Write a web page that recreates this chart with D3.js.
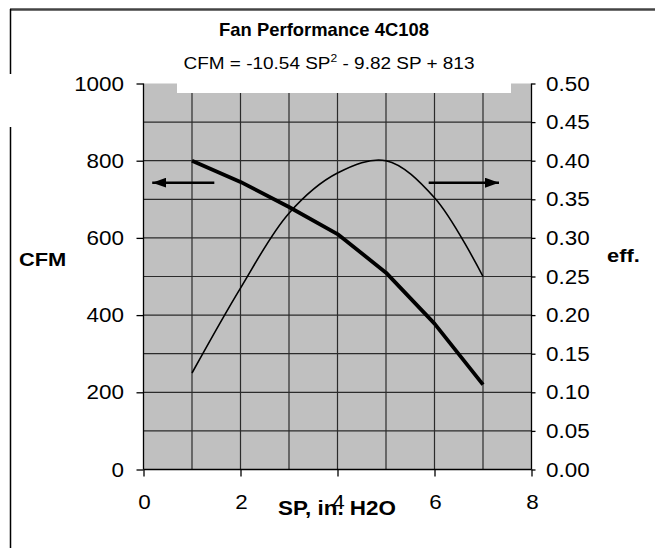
<!DOCTYPE html>
<html>
<head>
<meta charset="utf-8">
<script src="https://cdn.jsdelivr.net/npm/d3@7"></script>
<style>
  body { margin: 0; background: #fff; }
  text { font-family: "Liberation Sans", Arial, sans-serif; fill: #000; }
</style>
</head>
<body>
<div id="chart"></div>
<script>
var sp = [1, 2, 3, 4, 5, 6, 7];
var cfm = [800, 745, 680, 610, 510, 378, 220];
var eff = [0.125, 0.235, 0.332, 0.384, 0.400, 0.352, 0.250];
var xTicks = [0, 2, 4, 6, 8];
var cfmTicks = [0, 200, 400, 600, 800, 1000];
var effTicks = [0, 0.05, 0.10, 0.15, 0.20, 0.25, 0.30, 0.35, 0.40, 0.45, 0.50];
// arrows pointing to which axis each curve uses: [from sp, to sp, at cfm]
var arrows = [[1.46, 0.18, 743], [5.88, 7.33, 743]];

var w = 655, h = 548;
var pL = 143.5, pR = 531.5, pT = 83.5, pB = 469.5;

var svg = d3.select("#chart").append("svg").attr("width", w).attr("height", h);

var x = d3.scaleLinear().domain([0, 8]).range([pL, pR]);
var yL = d3.scaleLinear().domain([0, 1000]).range([pB, pT]);
var yR = d3.scaleLinear().domain([0, 0.5]).range([pB, pT]);

function label(txt, px, py, size, bold, anchor, sx) {
  return svg.append("text").text(txt)
    .attr("transform", "translate(" + px + "," + py + ") scale(" + (sx || 1.15) + ",1)")
    .attr("text-anchor", anchor || "middle")
    .style("font-size", size + "px")
    .style("font-weight", bold ? "bold" : "normal");
}

// outer frame, only top and left show
svg.append("line").attr("x1", 10).attr("x2", w).attr("y1", 9.5).attr("y2", 9.5)
  .attr("stroke", "#444").attr("stroke-width", 2.5);
svg.append("line").attr("x1", 10.5).attr("x2", 10.5).attr("y1", 9).attr("y2", 74)
  .attr("stroke", "#000").attr("stroke-width", 1.5);
svg.append("line").attr("x1", 10.5).attr("x2", 10.5).attr("y1", 127).attr("y2", h)
  .attr("stroke", "#000").attr("stroke-width", 1.5);

svg.append("rect").attr("x", pL).attr("y", pT).attr("width", pR - pL).attr("height", pB - pT)
  .attr("fill", "#c0c0c0");

var grid = svg.append("g").attr("stroke", "#2b2b2b").attr("stroke-width", 1.2);
grid.selectAll("line.v").data(d3.range(1, 8)).enter().append("line")
  .attr("x1", function(d) { return x(d); }).attr("x2", function(d) { return x(d); })
  .attr("y1", pT).attr("y2", pB);
grid.selectAll("line.h").data(effTicks.slice(1, -1)).enter().append("line")
  .attr("x1", pL).attr("x2", pR)
  .attr("y1", function(d) { return yR(d); }).attr("y2", function(d) { return yR(d); });

// title box sits over the top of the plot
svg.append("rect").attr("x", 177).attr("y", 40).attr("width", 334).attr("height", 53).attr("fill", "#fff");

// axes
var gx = svg.append("g").attr("transform", "translate(0," + pB + ")")
  .call(d3.axisBottom(x).tickValues(xTicks).tickSize(7).tickFormat(""));
var gl = svg.append("g").attr("transform", "translate(" + pL + ",0)")
  .call(d3.axisLeft(yL).tickValues(cfmTicks).tickSize(7).tickFormat(""));
var gr = svg.append("g").attr("transform", "translate(" + pR + ",0)")
  .call(d3.axisRight(yR).tickValues(effTicks).tickSize(4).tickFormat(""));
[gx, gl, gr].forEach(function(g) {
  g.select(".domain").attr("stroke", "#000").attr("stroke-width", 1.3);
  g.selectAll(".tick line").attr("stroke", "#000").attr("stroke-width", 1.3);
});
gl.select(".domain").attr("d", "M0," + pT + "V" + pB);
gr.select(".domain").attr("d", "M0," + pT + "V" + pB);
gx.select(".domain").attr("d", "M" + pL + ",0H" + pR);

xTicks.forEach(function(t) { label(t, x(t) + 1, 509, 19.5); });
cfmTicks.forEach(function(t) { label(t, 124, yL(t) + 7, 19.5, false, "end"); });
effTicks.forEach(function(t) { label(t.toFixed(2), 546, yR(t) + 7, 19.5, false, "start"); });

label("CFM", 19, 266, 19, true, "start");
label("eff.", 607, 262, 19, true, "start");
label("SP, in. H2O", 337, 515, 19.5, true);

label("Fan Performance 4C108", 324, 36, 19, true, "middle", 0.97);
var sub = label("CFM = -10.54 SP", 329, 69, 16.5);
sub.append("tspan").attr("dy", -7).style("font-size", "10.5px").text("2");
sub.append("tspan").attr("dy", 7).text(" - 9.82 SP + 813");

// curves
var cfmLine = d3.line()
  .x(function(d, i) { return x(sp[i]); })
  .y(function(d) { return yL(d); });
var effLine = d3.line()
  .x(function(d, i) { return x(sp[i]); })
  .y(function(d) { return yR(d); })
  .curve(d3.curveCatmullRom);

svg.append("path").attr("d", effLine(eff)).attr("fill", "none")
  .attr("stroke", "#000").attr("stroke-width", 1.6);
svg.append("path").attr("d", cfmLine(cfm)).attr("fill", "none")
  .attr("stroke", "#000").attr("stroke-width", 3.8).attr("stroke-linejoin", "round");

svg.append("defs").append("marker").attr("id", "head")
  .attr("viewBox", "0 0 14 10").attr("refX", 14).attr("refY", 5)
  .attr("markerWidth", 14).attr("markerHeight", 10).attr("markerUnits", "userSpaceOnUse")
  .attr("orient", "auto")
  .append("path").attr("d", "M0,0L14,5L0,10Z").attr("fill", "#000");

svg.selectAll("line.arrow").data(arrows).enter().append("line").attr("class", "arrow")
  .attr("x1", function(d) { return x(d[0]); }).attr("x2", function(d) { return x(d[1]); })
  .attr("y1", function(d) { return yL(d[2]); }).attr("y2", function(d) { return yL(d[2]); })
  .attr("stroke", "#000").attr("stroke-width", 2.6).attr("marker-end", "url(#head)");
</script>
</body>
</html>
